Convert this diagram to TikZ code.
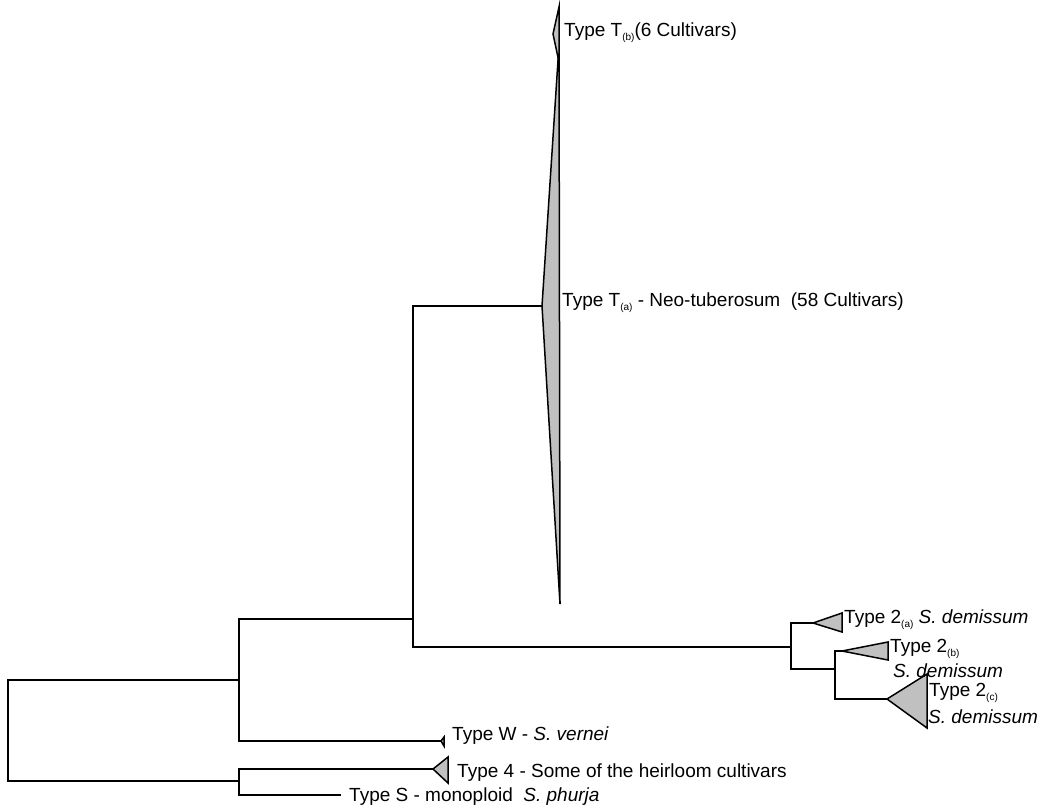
\documentclass[tikz,border=0pt]{standalone}
\usepackage{fontspec}
\setmainfont{Liberation Sans}
\definecolor{cladegray}{RGB}{192,192,192}
\newcommand{\subtx}[1]{\raisebox{-0.45ex}{\fontsize{10}{10}\selectfont #1}}
\begin{document}
\begin{tikzpicture}[x=1pt,y=-1pt,
  branch/.style={draw=black, line width=1.5pt, line cap=rect},
  clade/.style={draw=black, fill=cladegray, line width=1.5pt, line join=miter},
  lab/.style={anchor=base west, inner sep=0pt, font=\fontsize{19}{21}\selectfont}]
\useasboundingbox (0,0) rectangle (1050,807);
% junctions
\coordinate (root) at (8,730);
\coordinate (A) at (239,680);
\coordinate (B) at (239,781);
\coordinate (C) at (413,619);
\coordinate (D) at (791,647);
\coordinate (E) at (835,669);
% leaf tips
\coordinate (Ta) at (542,306);
\coordinate (Tb) at (553,34);
\coordinate (A2) at (813,623);
\coordinate (B2) at (842,651);
\coordinate (C2) at (887,699);
\coordinate (Wt) at (441,741);
\coordinate (T4) at (433,769);
\coordinate (Send) at (340,795);
% branches
\draw[branch] (A) -| (root) |- (B);
\draw[branch] (C) -| (A) |- (Wt);
\draw[branch] (Ta) -| (C) |- (D);
\draw[branch] (A2) -| (D) |- (E);
\draw[branch] (B2) -| (E) |- (C2);
\draw[branch] (T4) -| (B) |- (Send);
% collapsed clades
\draw[clade] (Ta) -- (559,45) -- (560,604) -- cycle;
\draw[clade] (Tb) -- (559,7) -- (559,62) -- cycle;
\draw[clade] (A2) -- (842,613) -- (842,632) -- cycle;
\draw[clade] (B2) -- (888,642) -- (888,660) -- cycle;
\draw[clade] (C2) -- (927,674) -- (927,728) -- cycle;
\draw[clade] (Wt) -- (444,737) -- (444,746) -- cycle;
\draw[clade] (T4) -- (448,757) -- (448,783) -- cycle;
% labels
\node[lab] (lTb) at (564,36) {Type T\subtx{(b)}(6 Cultivars)};
\node[lab] (lTa) at (562,306) {Type T\subtx{(a)} - Neo-tuberosum\ \ (58 Cultivars)};
\node[lab] (l2a) at (844,623) {Type 2\subtx{(a)} \textit{S. demissum}};
\node[lab] (l2b) at (890,652) {Type 2\subtx{(b)}};
\node[lab] (l2bs) at (893,677) {\textit{S. demissum}};
\node[lab] (l2c) at (929,696) {Type 2\subtx{(c)}};
\node[lab] (l2cs) at (928,723) {\textit{S. demissum}};
\node[lab] (lW) at (452,740) {Type W - \textit{S. vernei}};
\node[lab] (l4) at (457,777) {Type 4 - Some of the heirloom cultivars};
\node[lab] (lS) at (349,801) {Type S - monoploid\ \ \textit{S. phurja}};
\end{tikzpicture}
\end{document}
